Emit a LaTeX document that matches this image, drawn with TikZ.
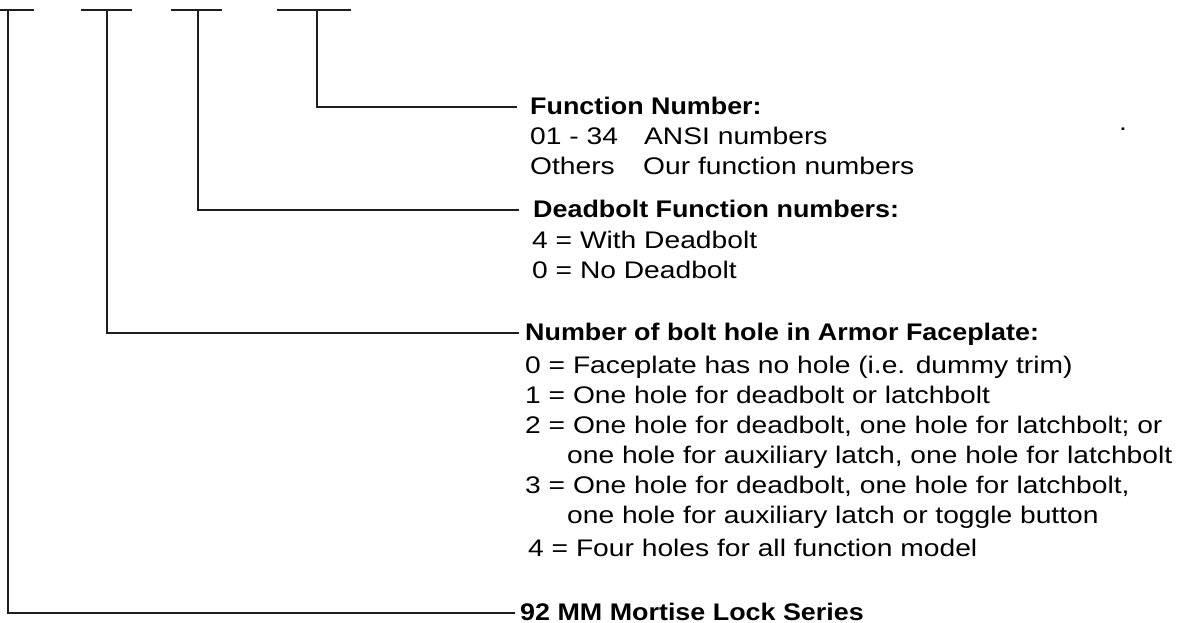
\documentclass[tikz,border=0pt]{standalone}
\usepackage{fontspec}
\setmainfont{Liberation Sans}[FakeStretch=1.175,BoldFeatures={FakeStretch=1.12}]
\usetikzlibrary{positioning}

\definecolor{linegray}{HTML}{1E1E1E}

\tikzset{
  conn/.style={draw=linegray,line width=1.4pt},
  head/.style={anchor=base west,inner ysep=0pt,inner xsep=#1,
    text height=14pt,text depth=0pt,font=\bfseries},
  head/.default=5pt,
  body/.style={anchor=base west,inner sep=0pt,align=left}
}

\begin{document}
\begin{tikzpicture}[x=1pt,y=1pt]
  \useasboundingbox (0,0) rectangle (1182,-623);
  \fontsize{24pt}{30pt}\selectfont

  % tops of the four code positions
  \coordinate (bar1l) at (0,-10);   \coordinate (bar1r) at (34,-10);
  \coordinate (bar2l) at (81,-10);  \coordinate (bar2r) at (132,-10);
  \coordinate (bar3l) at (171,-10); \coordinate (bar3r) at (222,-10);
  \coordinate (bar4l) at (277,-10); \coordinate (bar4r) at (351,-10);
  \coordinate (stem1) at (8,-10);
  \coordinate (stem2) at (107,-10);
  \coordinate (stem3) at (198,-10);
  \coordinate (stem4) at (317,-10);

  % headings
  \node[head=13pt] (func) at (517,-114) {Function Number:};
  \node[head=14pt] (dbolt) at (519,-217) {Deadbolt Function numbers:};
  \node[head=6pt] (holes) at (519,-340) {Number of bolt hole in Armor Faceplate:};
  \node[head=5pt] (series) at (515,-620) {92 MM Mortise Lock Series};

  % descriptions (base = last line)
  \node[body] (funcbody) at (530,-174)
    {\makebox[114pt][l]{01 - 34}ANSI numbers\\
     \makebox[113pt][l]{Others}Our function numbers};
  \node[body] (dboltbody) at (532,-278)
    {4 = With Deadbolt\\0 = No Deadbolt};
  \node[body] (holesbody) at (525,-556)
    {0 = Faceplate has no hole (i.e. dummy trim)\\
     1 = One hole for deadbolt or latchbolt\\
     2 = One hole for deadbolt, one hole for latchbolt; or\\
     \hspace*{42pt}one hole for auxiliary latch, one hole for latchbolt\\
     3 = One hole for deadbolt, one hole for latchbolt,\\
     \hspace*{42pt}one hole for auxiliary latch or toggle button\\[3pt]
     \hspace*{3pt}4 = Four holes for all function model};
  \node[body] (dot) at (1119,-130) {.};

  % T bars
  \draw[conn] (bar1l) -- (bar1r);
  \draw[conn] (bar2l) -- (bar2r);
  \draw[conn] (bar3l) -- (bar3r);
  \draw[conn] (bar4l) -- (bar4r);

  % leaders
  \draw[conn] (stem4) |- (func.west);
  \draw[conn] (stem3) |- (dbolt.west);
  \draw[conn] (stem2) |- (holes.west);
  \draw[conn] (stem1) |- (series.west);
\end{tikzpicture}
\end{document}
